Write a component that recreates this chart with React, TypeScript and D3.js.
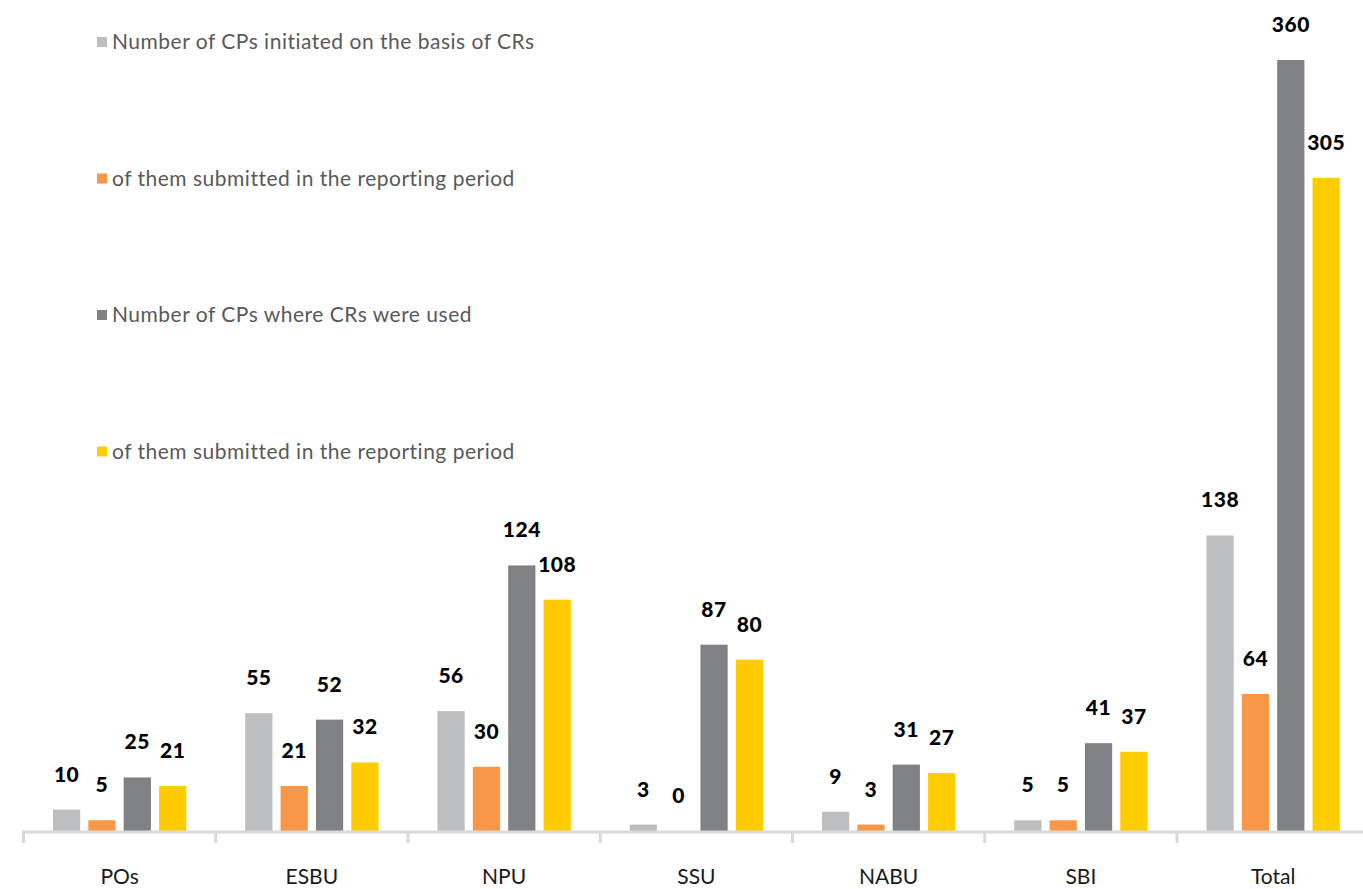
import React, { useEffect } from "react";
import * as d3 from "d3";

const categories = ["POs", "ESBU", "NPU", "SSU", "NABU", "SBI", "Total"];
const seriesNames = [
  "Number of CPs initiated on the basis of CRs",
  "of them submitted in the reporting period",
  "Number of CPs where CRs were used",
  "of them submitted in the reporting period",
];
const initiated = [10, 55, 56, 3, 9, 5, 138];
const initiatedSubmitted = [5, 21, 30, 0, 3, 5, 64];
const used = [25, 52, 124, 87, 31, 41, 360];
const usedSubmitted = [21, 32, 108, 80, 27, 37, 305];
const seriesValues = [initiated, initiatedSubmitted, used, usedSubmitted];
const seriesColors = ["#bdbec0", "#f79747", "#808185", "#ffcc00"];

const W = 1363;
const H = 889;
const FONT = "Lato, 'Open Sans', sans-serif";

export default function App() {
  useEffect(() => {
    document.body.style.margin = "0";
  }, []);

  const x = d3
    .scaleBand<string>()
    .domain(categories)
    .range([23.5, 23.5 + 7 * 192.25])
    .padding(0);
  const bw = x.bandwidth();
  const groupW = 133.3;
  const inner = d3
    .scaleBand<number>()
    .domain(d3.range(seriesNames.length))
    .range([(bw - groupW) / 2, (bw + groupW) / 2])
    .paddingInner(0.23)
    .paddingOuter(0);
  const y = d3.scaleLinear().domain([0, 360]).range([831, 60]);

  const axisY = 832;
  const tickXs = categories.map((c) => x(c) as number);

  return (
    <svg width={W} height={H} style={{ display: "block" }} fontFamily={FONT}>
      <rect width={W} height={H} fill="#ffffff" />
      {/* legend */}
      {seriesNames.map((name, i) => {
        const cy = 42 + i * 136.5;
        return (
          <g key={"lg" + i}>
            <rect x={97} y={cy - 5} width={10} height={10} fill={seriesColors[i]} />
            <text
              x={112}
              y={cy}
              dy="0.35em"
              fontSize={21}
              letterSpacing={0.5}
              fill="#595959"
            >
              {name}
            </text>
          </g>
        );
      })}
      {/* bars */}
      {categories.map((c, ci) => (
        <g key={c} transform={`translate(${x(c)},0)`}>
          {seriesValues.map((vals, si) => {
            const v = vals[ci];
            const bx = inner(si) as number;
            const ib = inner.bandwidth();
            return (
              <g key={si}>
                {v > 0 && (
                  <rect
                    x={bx}
                    y={y(v)}
                    width={ib}
                    height={y(0) - y(v)}
                    fill={seriesColors[si]}
                  />
                )}
                <text
                  x={bx + ib / 2}
                  y={y(v) - 28}
                  textAnchor="middle"
                  fontSize={21}
                  fontWeight={900}
                  letterSpacing={0.5}
                  fill="#000000"
                >
                  {v}
                </text>
              </g>
            );
          })}
        </g>
      ))}
      {/* axis */}
      <line x1={22} x2={W} y1={axisY} y2={axisY} stroke="#d9d9d9" strokeWidth={3} />
      {tickXs.map((tx, i) => (
        <line
          key={"t" + i}
          x1={tx}
          x2={tx}
          y1={axisY}
          y2={843}
          stroke="#d9d9d9"
          strokeWidth={3}
        />
      ))}
      {categories.map((c) => (
        <text
          key={"cl" + c}
          x={(x(c) as number) + bw / 2}
          y={884}
          textAnchor="middle"
          fontSize={21}
          fill="#1a1a1a"
        >
          {c}
        </text>
      ))}
    </svg>
  );
}
